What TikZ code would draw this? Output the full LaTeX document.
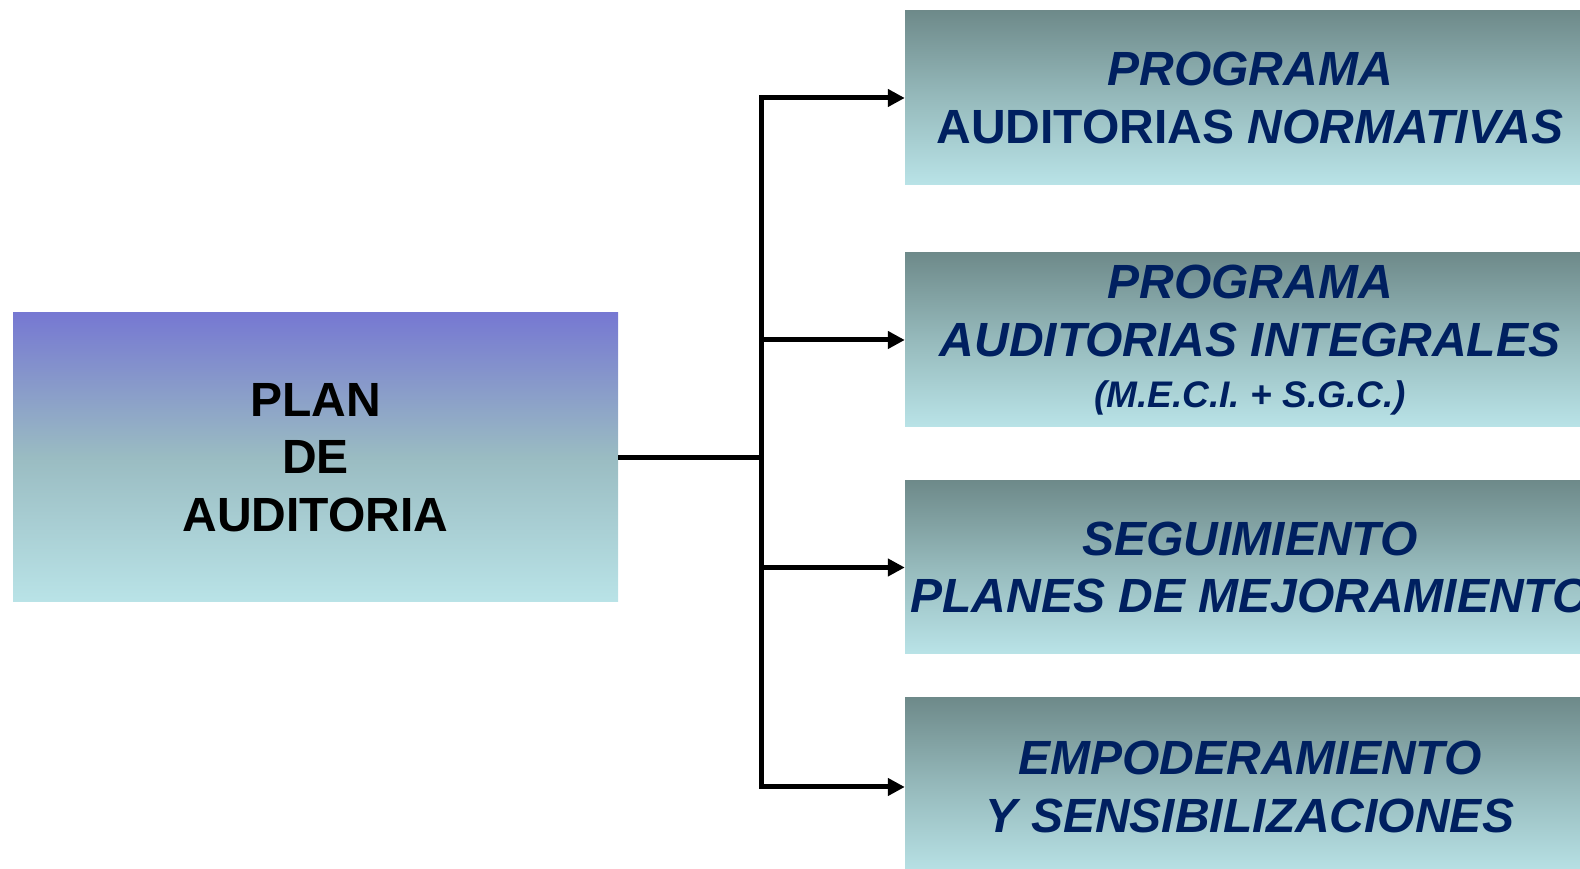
\documentclass[tikz,border=0pt]{standalone}
\usepackage{fontspec}
\setmainfont{Liberation Sans}
\usetikzlibrary{arrows.meta,positioning,calc}

\definecolor{navytext}{RGB}{0,32,96}
\definecolor{planTop}{RGB}{118,120,210}
\definecolor{planMid}{RGB}{154,188,194}
\definecolor{progTop}{RGB}{110,138,138}
\definecolor{progMid}{RGB}{150,186,188}
\definecolor{boxBottom}{RGB}{185,227,231}

\begin{document}
\begin{tikzpicture}[x=1pt, y=1pt,
    bigtext/.style={font=\fontsize{48}{57.6}\selectfont\bfseries, align=center},
    planbox/.style={bigtext, inner sep=0pt, minimum width=605, minimum height=289,
        top color=planTop, bottom color=boxBottom, middle color=planMid},
    progbox/.style={bigtext, text=navytext, inner sep=0pt, minimum width=690, minimum height=174,
        top color=progTop, bottom color=boxBottom, middle color=progMid},
    branch/.style={line width=5pt, line join=miter, -{Triangle[length=17pt,width=17pt]}}]
    \useasboundingbox (0,0) rectangle (1580,869);
    \clip (0,0) rectangle (1580,869);

    % left box
    \node[planbox] (plan) at (315.5,411.5) {PLAN\\DE\\AUDITORIA};

    % right boxes (cut by the right edge)
    \node[progbox] (normativas) at (1250,771) {\itshape PROGRAMA\\AUDITORIAS \itshape NORMATIVAS};
    \node[progbox] (integrales) at (1250,529) {\itshape PROGRAMA\\\itshape AUDITORIAS INTEGRALES\\[-7pt]{\fontsize{37}{44}\selectfont\itshape (M.E.C.I. + S.G.C.)}};
    \node[progbox, minimum height=173] (seguimiento) at (1250,301.5) {\itshape SEGUIMIENTO\\\itshape PLANES DE MEJORAMIENTO};
    \node[progbox, minimum height=178] (empoderamiento) at (1250,82) {\itshape EMPODERAMIENTO\\\itshape Y SENSIBILIZACIONES};

    % connectors
    \coordinate (split) at (761,411.5);
    \draw[line width=5pt] (plan.east) -- (split);
    \draw[branch] (split) |- (normativas.west);
    \draw[branch] (split) |- (integrales.west);
    \draw[branch] (split) |- (seguimiento.west);
    \draw[branch] (split) |- (empoderamiento.west);
\end{tikzpicture}
\end{document}
